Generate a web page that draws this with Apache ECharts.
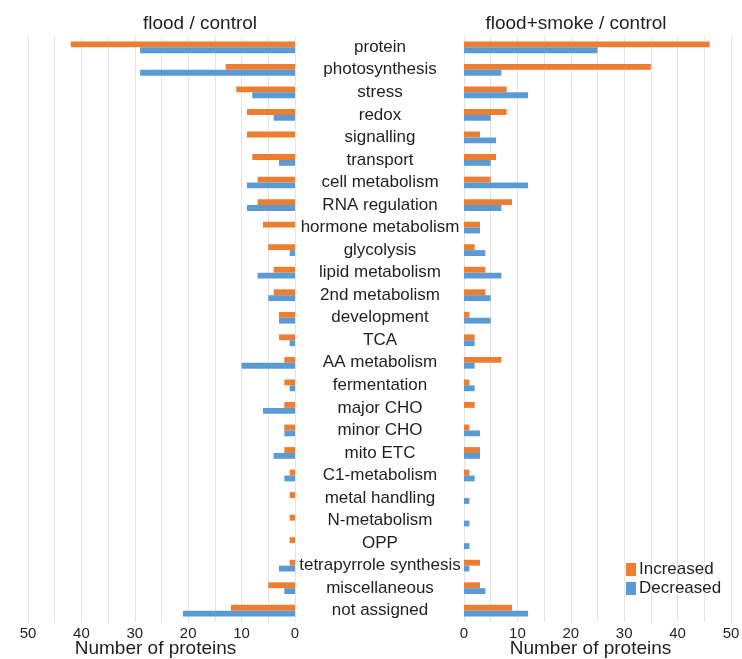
<!DOCTYPE html>
<html>
<head>
<meta charset="utf-8">
<script src="https://cdn.jsdelivr.net/npm/echarts@6/dist/echarts.min.js"></script>
<style>
  html, body { margin: 0; padding: 0; background: #fff; }
  #chart { width: 742px; height: 659px; }
</style>
</head>
<body>
<div id="chart"></div>
<script>
// Functional categories (top to bottom)
const categories = [
  'protein', 'photosynthesis', 'stress', 'redox', 'signalling', 'transport',
  'cell metabolism', 'RNA regulation', 'hormone metabolism', 'glycolysis',
  'lipid metabolism', '2nd metabolism', 'development', 'TCA', 'AA metabolism',
  'fermentation', 'major CHO', 'minor CHO', 'mito ETC', 'C1-metabolism',
  'metal handling', 'N-metabolism', 'OPP', 'tetrapyrrole synthesis',
  'miscellaneous', 'not assigned'
];

// flood / control
const floodIncreased = [42, 13, 11, 9, 9, 8, 7, 7, 6, 5, 4, 4, 3, 3, 2, 2, 2, 2, 2, 1, 1, 1, 1, 1, 5, 12];
const floodDecreased = [29, 29, 8, 4, 0, 3, 9, 9, 0, 1, 7, 5, 3, 1, 10, 1, 6, 2, 4, 2, 0, 0, 0, 3, 2, 21];

// flood+smoke / control
const smokeIncreased = [46, 35, 8, 8, 3, 6, 5, 9, 3, 2, 4, 4, 1, 2, 7, 1, 2, 1, 3, 1, 0, 0, 0, 3, 3, 9];
const smokeDecreased = [25, 7, 12, 5, 6, 5, 12, 7, 3, 4, 7, 5, 5, 2, 2, 2, 0, 3, 3, 2, 1, 1, 1, 1, 4, 12];

const panelTitles = ['flood / control', 'flood+smoke / control'];
const axisName = 'Number of proteins';
const seriesNames = ['Increased', 'Decreased'];

const ORANGE = '#ED7D31';
const BLUE = '#5B9BD5';
const FONT = '"Liberation Sans", Arial, sans-serif';
const TEXT = '#1f1f1f';

const chart = echarts.init(document.getElementById('chart'));

function valueAxis(gridIndex, inverse) {
  return {
    type: 'value',
    gridIndex: gridIndex,
    inverse: inverse,
    min: 0,
    max: 50,
    interval: 5,
    name: axisName,
    nameLocation: 'middle',
    nameGap: 17,
    nameMoveOverlap: false,
    nameTextStyle: { fontFamily: FONT, fontSize: 19, color: TEXT,
      padding: inverse ? [0, 12, 0, 0] : [0, 14, 0, 0] },
    axisLine: { show: false },
    axisTick: { show: false },
    axisLabel: {
      fontFamily: FONT, fontSize: 15, color: TEXT, margin: 4,
      formatter: v => (v % 10 === 0 ? String(v) : '')
    },
    splitLine: { show: true, lineStyle: { color: '#e3e3e3', width: 1 } }
  };
}

function barSeries(name, color, data, idx) {
  return {
    name: name,
    type: 'bar',
    xAxisIndex: idx,
    yAxisIndex: idx,
    data: data,
    barGap: '0%',
    barCategoryGap: '48%',
    itemStyle: { color: color },
    silent: true
  };
}

chart.setOption({
  animation: false,
  backgroundColor: '#ffffff',
  title: [
    { text: panelTitles[0], left: 195, top: 9, textAlign: 'center',
      textStyle: { fontFamily: FONT, fontSize: 19, fontWeight: 'normal', color: TEXT } },
    { text: panelTitles[1], left: 571, top: 9, textAlign: 'center',
      textStyle: { fontFamily: FONT, fontSize: 19, fontWeight: 'normal', color: TEXT } }
  ],
  legend: {
    data: seriesNames,
    orient: 'vertical',
    left: 621,
    top: 556,
    itemWidth: 10,
    itemHeight: 13,
    itemGap: 2,
    icon: 'rect',
    textStyle: { fontFamily: FONT, fontSize: 17, color: TEXT, padding: [0, 0, 0, -2] }
  },
  grid: [
    { left: 28, right: 447, top: 36, bottom: 37, outerBoundsMode: 'none', containLabel: false },
    { left: 464, right: 11, top: 36, bottom: 37, outerBoundsMode: 'none', containLabel: false }
  ],
  xAxis: [valueAxis(0, true), valueAxis(1, false)],
  yAxis: [
    {
      type: 'category', gridIndex: 0, data: categories, inverse: true,
      position: 'right',
      axisLine: { show: false }, axisTick: { show: false },
      axisLabel: { align: 'center', margin: 85, fontFamily: FONT, fontSize: 17, color: TEXT, interval: 0 }
    },
    {
      type: 'category', gridIndex: 1, data: categories, inverse: true,
      axisLine: { show: false }, axisTick: { show: false },
      axisLabel: { show: false }
    }
  ],
  series: [
    barSeries(seriesNames[0], ORANGE, floodIncreased, 0),
    barSeries(seriesNames[1], BLUE, floodDecreased, 0),
    barSeries(seriesNames[0], ORANGE, smokeIncreased, 1),
    barSeries(seriesNames[1], BLUE, smokeDecreased, 1)
  ]
});
</script>
</body>
</html>
